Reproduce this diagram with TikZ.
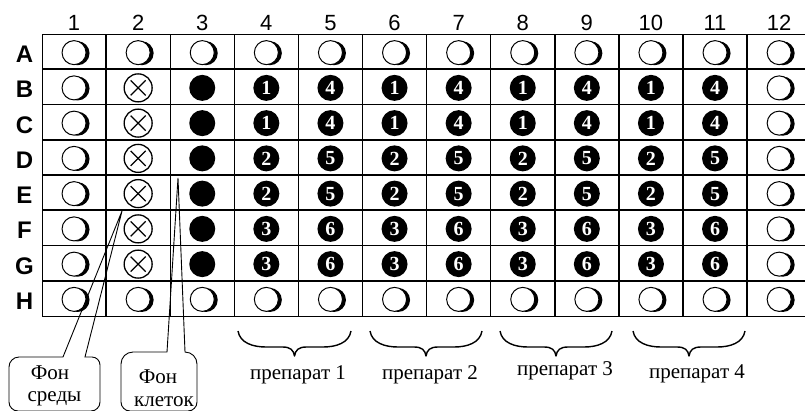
\documentclass[tikz,border=0pt]{standalone}
\usepackage{fontspec}
\setmainfont{Liberation Serif}
\newfontfamily\plainsans{Liberation Sans}
\usetikzlibrary{shadows}

\begin{document}
\begin{tikzpicture}[x=1pt,y=-1pt,
  collbl/.style={font=\plainsans\fontsize{22}{25}\selectfont, inner sep=0pt},
  rowlbl/.style={font=\plainsans\bfseries\fontsize{24}{27}\selectfont, inner sep=0pt},
  txt/.style={font=\fontsize{21}{24}\selectfont, inner sep=0pt},
  frame/.style={line width=0.9pt},
  vline/.style={line width=1.4pt},
  hthick/.style={line width=1.6pt},
  hthin/.style={line width=1.2pt},
  openwell/.style={circle, draw, line width=1pt, fill=white, minimum size=24pt, inner sep=0pt,
    drop shadow={shadow xshift=3.5pt, shadow yshift=-0.6pt, opacity=1, fill=black}},
  xwell/.style={circle, draw, line width=1.3pt, minimum size=28pt, inner sep=0pt,
    path picture={
      \draw[line width=1.3pt] ([shift={(-7.5pt,-7.5pt)}]path picture bounding box.center) -- ([shift={(7.5pt,7.5pt)}]path picture bounding box.center);
      \draw[line width=1.3pt] ([shift={(-7.5pt,7.5pt)}]path picture bounding box.center) -- ([shift={(7.5pt,-7.5pt)}]path picture bounding box.center);}},
  fullwell/.style={circle, fill=black, minimum size=26pt, inner sep=0pt},
  numwell/.style={circle, fill=black, minimum size=26pt, inner sep=0pt, text=white,
    font=\bfseries\fontsize{20}{20}\selectfont},
  callout/.style={line width=0.9pt},
  bracepath/.style={line width=1.4pt, line join=round}
]
\useasboundingbox (0,0) rectangle (805,410);
\clip (0,0) rectangle (805,410);

% plate geometry: left edge, column width, top edge, row height
\def\gx{42}\def\cw{64.1}\def\gy{34}\def\rh{35.25}

% grid
\foreach \k in {1,...,11}
  \draw[vline] ({\gx+\k*\cw},\gy) -- ({\gx+\k*\cw},{\gy+8*\rh});
\foreach \k in {1,3,5,7}
  \draw[hthick] (\gx,{\gy+\k*\rh}) -- ({\gx+12*\cw},{\gy+\k*\rh});
\foreach \k in {2,4,6}
  \draw[hthin] (\gx,{\gy+\k*\rh}) -- ({\gx+12*\cw},{\gy+\k*\rh});
\draw[frame] (\gx,\gy) rectangle ({\gx+12*\cw},{\gy+8*\rh});

% column numbers
\foreach \c in {1,...,12}
  \node[collbl, anchor=base] (col\c) at ({\gx+(\c-0.5)*\cw},30) {\c};

% row letters
\foreach \r/\L in {1/A,2/B,3/C,4/D,5/E,6/F,7/G,8/H}
  \node[rowlbl, anchor=base] (row\L) at (24.5,{\gy+(\r-0.5)*\rh+11}) {\L};

% wells
\foreach \r/\L in {1/A,2/B,3/C,4/D,5/E,6/F,7/G,8/H} {
  \foreach \c in {1,...,12} {
    \pgfmathsetmacro\px{\gx+(\c-0.5)*\cw}
    \pgfmathsetmacro\py{\gy+(\r-0.5)*\rh+1}
    \pgfmathtruncatemacro\edge{(\r==1)||(\r==8)||(\c==1)||(\c==12)}
    \ifnum\edge=1
      \node[openwell] (w\L\c) at (\px,\py) {};
    \else\ifnum\c=2
      \node[xwell] (w\L\c) at (\px,\py) {};
    \else\ifnum\c=3
      \node[fullwell] (w\L\c) at (\px,\py) {};
    \else
      \pgfmathtruncatemacro\d{int((\r-2)/2)+1+3*mod(\c,2)}
      \node[numwell] (w\L\c) at (\px,\py) {\d};
    \fi\fi\fi
  }
}

% callout: medium background
\coordinate (tipA) at (122,211);
\coordinate (baseA1) at (63,357);
\coordinate (baseA2) at (85,357);
\draw[callout] (9,402) -- (9,367) arc[start angle=180, end angle=270, radius=10]
  -- (baseA1) -- (tipA) -- (baseA2) -- (92,357)
  arc[start angle=270, end angle=360, radius=8] -- (100,402)
  arc[start angle=0, end angle=90, radius=9] -- (18,411)
  arc[start angle=90, end angle=180, radius=9];
\node[txt, anchor=base] (fon1) at (50,379) {Фон};
\node[txt, anchor=base] (sreda) at (54.5,401) {среды};

% callout: cell background
\coordinate (tipB) at (178,178);
\coordinate (baseB1) at (167,352);
\coordinate (baseB2) at (185,352);
\draw[callout] (121,402) -- (121,364) arc[start angle=180, end angle=270, radius=12]
  -- (baseB1) -- (tipB) -- (baseB2)
  arc[start angle=270, end angle=360, radius=12] -- (197,402)
  arc[start angle=0, end angle=90, radius=9] -- (130,411)
  arc[start angle=90, end angle=180, radius=9];
\node[txt, anchor=base] (fon2) at (158,383) {Фон};
\node[txt, anchor=base] (kletok) at (164,406) {клеток};

% braces under the preparation column pairs
\foreach \L/\R/\tx/\ty/\n in {238/351/298/379/1, 370/482/430/379/2, 500/612/565/375/3, 633/745/697/378/4} {
  \pgfmathsetmacro\m{(\L+\R)/2}
  \draw[bracepath] (\L,331) .. controls ({\L+2},343) and ({\L+15},347) .. ({\L+28},347)
    -- ({\m-12},347) .. controls ({\m-4},347) and ({\m-1},350) .. (\m,356)
    .. controls ({\m+1},350) and ({\m+4},347) .. ({\m+12},347)
    -- ({\R-28},347) .. controls ({\R-15},347) and ({\R-2},343) .. (\R,331);
  \node[txt, anchor=base] (prep\n) at (\tx,\ty) {препарат \n};
}
\end{tikzpicture}
\end{document}
